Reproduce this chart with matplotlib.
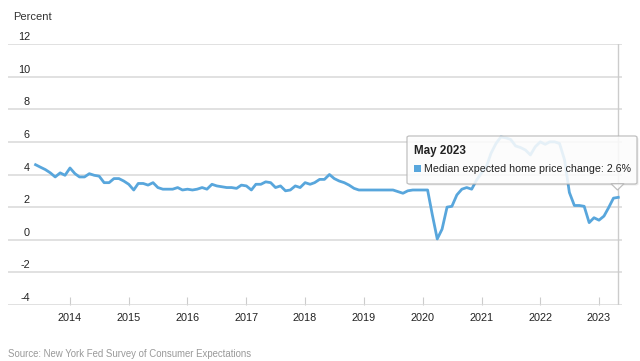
import numpy as np
import pandas as pd
import matplotlib
matplotlib.use("Agg")
import matplotlib.pyplot as plt
import matplotlib.dates as mdates
from matplotlib.patches import FancyBboxPatch, Polygon, Rectangle

plt.rcParams['font.family'] = ['Liberation Sans', 'DejaVu Sans']

# monthly median expected home price change, Jun 2013 - May 2023
v2013 = [4.6, 4.45, 4.3, 4.1, 3.85, 4.1, 3.95]
v2014 = [4.4, 4.05, 3.85, 3.85, 4.05, 3.95, 3.9, 3.5, 3.5, 3.75, 3.75, 3.6]
v2015 = [3.4, 3.05, 3.45, 3.45, 3.35, 3.5, 3.2, 3.1, 3.1, 3.1, 3.2, 3.05]
v2016 = [3.1, 3.05, 3.1, 3.2, 3.1, 3.4, 3.3, 3.25, 3.2, 3.2, 3.15, 3.35]
v2017 = [3.3, 3.05, 3.4, 3.4, 3.55, 3.5, 3.2, 3.3, 3.0, 3.05, 3.3, 3.2]
v2018 = [3.5, 3.4, 3.5, 3.7, 3.7, 4.0, 3.75, 3.6, 3.5, 3.35, 3.15, 3.05]
v2019 = [3.05, 3.05, 3.05, 3.05, 3.05, 3.05, 3.05, 2.95, 2.85, 3.0, 3.05, 3.05]
v2020 = [3.05, 3.05, 1.55, 0.05, 0.65, 2.0, 2.05, 2.75, 3.1, 3.2, 3.1, 3.65]
v2021 = [4.1, 4.5, 5.3, 5.9, 6.3, 6.25, 6.15, 5.75, 5.65, 5.5, 5.2, 5.7]
v2022 = [6.0, 5.85, 6.0, 6.0, 5.9, 4.9, 2.9, 2.1, 2.1, 2.05, 1.05, 1.35]
v2023 = [1.2, 1.45, 1.95, 2.55, 2.6]

values = v2013 + v2014 + v2015 + v2016 + v2017 + v2018 + v2019 + v2020 + v2021 + v2022 + v2023
dates = pd.date_range('2013-06-01', '2023-05-01', freq='MS')

years = list(range(2014, 2024))
yticks = [-4, -2, 0, 2, 4, 6, 8, 10, 12]

tip_title = "May 2023"
tip_label = "Median expected home price change: 2.6%"
source = "Source: New York Fed Survey of Consumer Expectations"

blue = '#58a6dc'
grid = '#d9d9d9'

W, H = 640, 361
fig = plt.figure(figsize=(6.4, 3.61), dpi=100)
ax = fig.add_axes([8 / W, 1 - 305 / H, (622 - 8) / W, (305 - 44) / H])

ax.plot(dates, values, color=blue, lw=2.0, solid_joinstyle='round', zorder=3)

# x range: 2014 tick at 70px, 58.78 px per year
base = mdates.date2num(pd.Timestamp('2014-01-01'))
ax.set_xlim(base - 62 / 58.78 * 365.25, base + 552 / 58.78 * 365.25)
ax.set_ylim(-4, 12)

ax.set_xticks([pd.Timestamp(f'{y}-01-01') for y in years])
ax.set_xticklabels([str(y) for y in years])
ax.tick_params(axis='x', direction='in', length=6, color='#cccccc', labelsize=7.8,
               labelcolor='#222222', pad=6)
ax.set_yticks(yticks)
ax.tick_params(axis='y', left=False, labelleft=False)
ax.grid(axis='y', color=grid, lw=1.1)
ax.set_axisbelow(True)
for s in ax.spines.values():
    s.set_visible(False)

ytrans = ax.get_yaxis_transform()
for v in yticks:
    ax.text((30 - 8) / (622 - 8), v + 0.12, str(v), transform=ytrans, ha='right', va='bottom',
            fontsize=7.8, color='#222222')

fig.text(13 / W, 1 - 17 / H, "Percent", fontsize=8, color='#333333', va='center')

# crosshair at last point
ax.axvline(dates[-1], color='#cccccc', lw=1, zorder=2)

# tooltip
x0, x1, y0, y1 = 407 / W, 637 / W, 1 - 184 / H, 1 - 136 / H
shadow = FancyBboxPatch((x0 + 1.5 / W, y0 - 1.5 / H), x1 - x0, y1 - y0,
                        boxstyle='round,pad=0,rounding_size=0.004',
                        transform=fig.transFigure, fc='#000000', ec='none', alpha=0.08)
fig.patches.append(shadow)
box = FancyBboxPatch((x0, y0), x1 - x0, y1 - y0, boxstyle='round,pad=0,rounding_size=0.004',
                     transform=fig.transFigure, fc='white', ec='#b5b5b5', lw=0.9, alpha=0.86)
fig.patches.append(box)
tri = Polygon([(611 / W, y0 + 0.3 / H), (624 / W, y0 + 0.3 / H), (617.5 / W, 1 - 190 / H)],
              closed=True, transform=fig.transFigure, fc='white', ec='#b5b5b5', lw=0.9, alpha=0.86)
fig.patches.append(tri)

fig.text(414 / W, 1 - 151 / H, tip_title, fontsize=8.4, fontweight='bold', color='#222222', va='center')
fig.patches.append(Rectangle((414 / W, 1 - 172 / H), 7 / W, 7 / H, transform=fig.transFigure,
                             fc=blue, ec='none'))
fig.text(424 / W, 1 - 168.5 / H, tip_label, fontsize=7.7, color='#222222', va='center')

fig.text(8 / W, 1 - 354 / H, source, fontsize=6.9, color='#999999', va='center')

fig.savefig('out.png', dpi=100)
